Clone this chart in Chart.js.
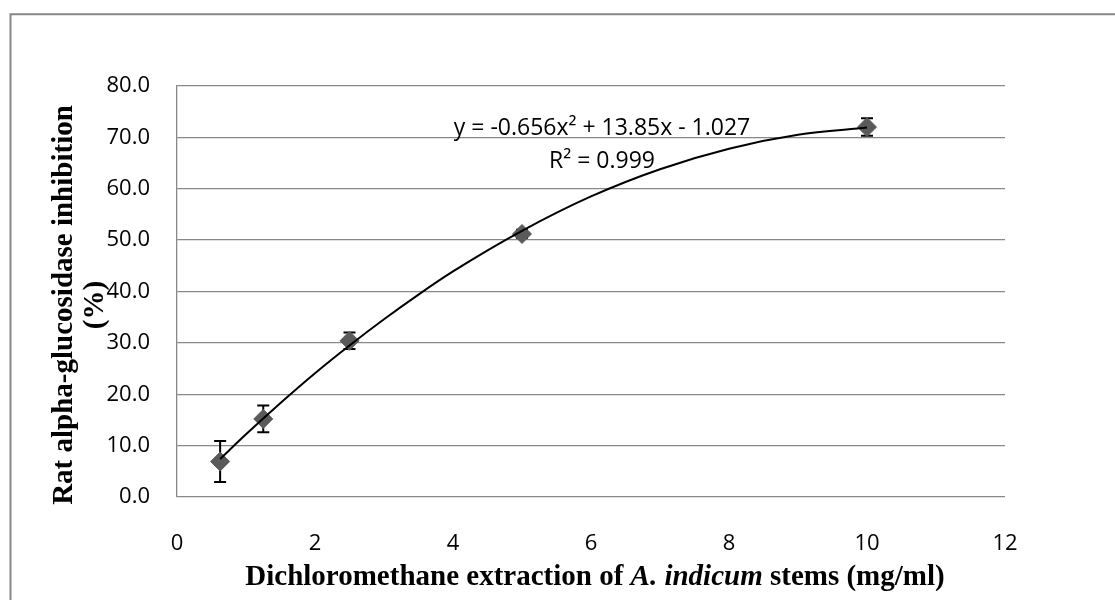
<!DOCTYPE html>
<html>
<head>
<meta charset="utf-8">
<script src="https://cdn.jsdelivr.net/npm/chart.js@4.4.1/dist/chart.umd.min.js"></script>
<style>
  html, body { margin: 0; padding: 0; background: #fff; }
  #wrap { position: relative; width: 1115px; height: 600px; }
</style>
</head>
<body>
<div id="wrap"><canvas id="chart"></canvas></div>
<script>
// concentration (mg/ml) vs % inhibition, with SD error bars
const X_VALUES = [0.625, 1.25, 2.5, 5, 10];
const INHIBITION = [6.9, 15.2, 30.4, 51.2, 72.0];
const ERRORS = [4.0, 2.6, 1.6, 0.8, 1.7];

// polynomial trendline
const TREND_X = [0.625, 1, 1.5, 2, 2.5, 3, 3.5, 4, 5, 6, 7, 8, 9, 10];
const TREND_Y = [7.4, 12.2, 18.3, 24.1, 29.5, 34.6, 39.4, 43.9, 51.8, 58.5, 63.8, 67.8, 70.5, 71.9];

const X_TICKS = [0, 2, 4, 6, 8, 10, 12];
const Y_TICKS = [0, 10, 20, 30, 40, 50, 60, 70, 80];

const EQUATION = 'y = -0.656x\u00b2 + 13.85x - 1.027';
const R_SQUARED = 'R\u00b2 = 0.999';
const Y_TITLE = ['Rat alpha-glucosidase inhibition', '(%)'];
const X_TITLE = [
  { text: 'Dichloromethane extraction of ', italic: false },
  { text: 'A. indicum', italic: true },
  { text: ' stems (mg/ml)', italic: false }
];

const TICK_FONT = { family: '"Open Sans"', size: 22 };
const GRID = '#888888';
const TITLE_FONT = 'bold 29px "Liberation Serif"';

// ---- outer frame + error bars (under markers) ----
const framePlugin = {
  id: 'frame',
  beforeDraw(chart) {
    const ctx = chart.ctx;
    ctx.save();
    ctx.fillStyle = '#fff';
    ctx.fillRect(0, 0, chart.width, chart.height);
    ctx.strokeStyle = '#878787';
    ctx.lineWidth = 2;
    ctx.beginPath();
    ctx.moveTo(10.5, chart.height + 5);
    ctx.lineTo(10.5, 14.3);
    ctx.lineTo(chart.width + 5, 14.3);
    ctx.stroke();
    ctx.restore();
  }
};

const errorBars = {
  id: 'errorBars',
  beforeDatasetsDraw(chart) {
    const { ctx, scales: { x, y } } = chart;
    ctx.save();
    ctx.strokeStyle = '#000';
    ctx.lineWidth = 2;
    X_VALUES.forEach((xv, i) => {
      const px = x.getPixelForValue(xv);
      const top = y.getPixelForValue(INHIBITION[i] + ERRORS[i]);
      const bot = y.getPixelForValue(INHIBITION[i] - ERRORS[i]);
      ctx.beginPath();
      ctx.moveTo(px, top); ctx.lineTo(px, bot);
      ctx.moveTo(px - 6, top); ctx.lineTo(px + 6, top);
      ctx.moveTo(px - 6, bot); ctx.lineTo(px + 6, bot);
      ctx.stroke();
    });
    ctx.restore();
  }
};

// ---- titles and trendline label ----
const textPlugin = {
  id: 'texts',
  afterDraw(chart) {
    const ctx = chart.ctx;
    ctx.save();
    ctx.fillStyle = '#000';

    // trendline equation
    ctx.font = '23px "Open Sans"';
    ctx.textAlign = 'center';
    ctx.textBaseline = 'alphabetic';
    ctx.fillText(EQUATION, 602, 135);
    ctx.fillText(R_SQUARED, 602, 168);

    // y title, two lines rotated
    ctx.font = TITLE_FONT;
    ctx.textBaseline = 'middle';
    const yMid = 305;
    [65, 96].forEach((lx, i) => {
      ctx.save();
      ctx.translate(lx, yMid);
      ctx.rotate(-Math.PI / 2);
      ctx.fillText(Y_TITLE[i], 0, 0);
      ctx.restore();
    });

    // x title with italic species name
    ctx.textAlign = 'left';
    ctx.textBaseline = 'alphabetic';
    const fonts = X_TITLE.map(p => (p.italic ? 'italic ' : '') + TITLE_FONT);
    const widths = X_TITLE.map((p, i) => { ctx.font = fonts[i]; return ctx.measureText(p.text).width; });
    const total = widths.reduce((a, b) => a + b, 0);
    let tx = 595 - total / 2;
    X_TITLE.forEach((p, i) => {
      ctx.font = fonts[i];
      ctx.fillText(p.text, tx, 585);
      tx += widths[i];
    });
    ctx.restore();
  }
};

new Chart(document.getElementById('chart'), {
  type: 'scatter',
  data: {
    datasets: [
      {
        label: 'trend',
        data: TREND_X.map((x, i) => ({ x, y: TREND_Y[i] })),
        showLine: true,
        borderColor: '#000',
        borderWidth: 2,
        pointRadius: 0,
        cubicInterpolationMode: 'monotone',
        order: 0
      },
      {
        label: 'inhibition',
        data: X_VALUES.map((x, i) => ({ x, y: INHIBITION[i] })),
        pointStyle: 'rectRot',
        pointRadius: 9.5,
        backgroundColor: '#5a5a5a',
        borderColor: '#5a5a5a',
        borderWidth: 1,
        order: 1
      }
    ]
  },
  options: {
    responsive: true,
    maintainAspectRatio: false,
    animation: false,
    layout: { padding: { left: 0, top: 86, right: 110, bottom: 0 } },
    plugins: { legend: { display: false }, tooltip: { enabled: false } },
    scales: {
      x: {
        type: 'linear', min: 0, max: 12,
        afterFit(s) { s.height = 600 - 497; },
        afterBuildTicks(s) { s.ticks = X_TICKS.map(v => ({ value: v })); },
        grid: { display: false, drawTicks: false },
        border: { display: false },
        ticks: { color: '#000', font: TICK_FONT, padding: 34, maxRotation: 0, callback: v => String(v) }
      },
      y: {
        type: 'linear', min: 0, max: 80,
        afterFit(s) { s.width = 177; },
        afterBuildTicks(s) { s.ticks = Y_TICKS.map(v => ({ value: v })); },
        grid: { color: GRID, lineWidth: 1.3, drawTicks: false },
        border: { display: true, color: GRID, width: 1.3 },
        ticks: { color: '#000', font: TICK_FONT, padding: 27, callback: v => v.toFixed(1) }
      }
    }
  },
  plugins: [framePlugin, errorBars, textPlugin]
});
</script>
</body>
</html>
